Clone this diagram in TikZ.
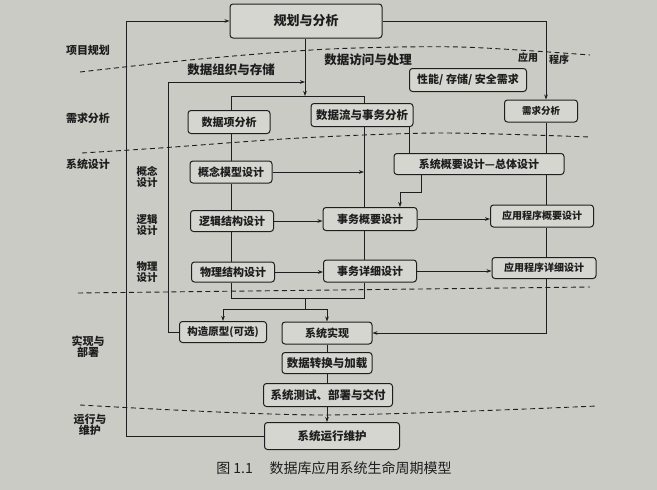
\documentclass[tikz,border=0pt]{standalone}
\usepackage{fontspec}
\setmainfont{Noto Sans CJK SC}
\usetikzlibrary{arrows.meta,calc}
\definecolor{paper}{RGB}{203,203,198}
\definecolor{boxfill}{RGB}{214,214,209}
\definecolor{ink}{RGB}{30,30,30}
\newcommand{\fs}[1]{\fontsize{#1}{#1}\selectfont}
\begin{document}
\begin{tikzpicture}[x=1pt,y=-1pt,
  box/.style={draw=ink, line width=1pt, rounded corners=3pt, fill=boxfill, text=ink, inner sep=0pt, align=center, font=\fs{11}\bfseries},
  conn/.style={draw=ink, line width=0.8pt},
  arr/.style={conn, -{Stealth[length=5pt,width=3.6pt]}},
  sep/.style={draw=ink, line width=0.9pt, dash pattern=on 5pt off 3.5pt},
  lbl/.style={text=ink, font=\fs{11}\bfseries, align=center, inner sep=0pt}]
\fill[paper] (0,0) rectangle (657,490);
\useasboundingbox (0,0) rectangle (657,490);

% phase separators
\draw[sep] plot[smooth] coordinates {(80,72) (200,59) (330,49) (460,47) (590,55)};
\draw[sep] plot[smooth] coordinates {(82,153) (160,148) (300,138) (440,133) (590,137)};
\draw[sep] (78,293) -- (590,287);
\draw[sep] plot[smooth] coordinates {(80,405) (320,415) (597,406)};

% phase labels
\node[lbl] (pPlan) at (88,50) {项目规划};
\node[lbl] (pReq) at (88,118) {需求分析};
\node[lbl] (pDes) at (88,164) {系统设计};
\node[lbl] (pImp) at (88,347) {实现与\\部署};
\node[lbl] (pRun) at (90,425) {运行与\\维护};
\node[lbl, font=\fs{10.5}\bfseries] (sCon) at (147,177) {概念\\设计};
\node[lbl, font=\fs{10.5}\bfseries] (sLog) at (147,225) {逻辑\\设计};
\node[lbl, font=\fs{10.5}\bfseries] (sPhy) at (147,272) {物理\\设计};

% stream labels
\node[lbl, font=\fs{12.5}\bfseries] (tOrg) at (231,70) {数据组织与存储};
\node[lbl, font=\fs{12.5}\bfseries] (tAcc) at (368,60) {数据访问与处理};
\node[lbl, font=\fs{10}\bfseries] (tApp1) at (528,58) {应用};
\node[lbl, font=\fs{10}\bfseries] (tApp2) at (559,60) {程序};

% boxes
\node[box, minimum width=152pt, minimum height=34pt, font=\fs{13}\bfseries] (plan) at (306,21) {规划与分析};
\node[box, minimum width=117pt, minimum height=23pt] (perf) at (468,80) {性能/ 存储/ 安全需求};
\node[box, minimum width=73pt, minimum height=22pt, font=\fs{9.5}\bfseries] (req) at (541,111) {需求分析};
\node[box, minimum width=82pt, minimum height=23pt] (ditem) at (229,122) {数据项分析};
\node[box, minimum width=102pt, minimum height=23pt, font=\fs{11.5}\bfseries] (dflow) at (362,115) {数据流与事务分析};
\node[box, minimum width=82pt, minimum height=22pt] (concept) at (231,172) {概念模型设计};
\node[box, minimum width=83pt, minimum height=21pt] (logic) at (232,221) {逻辑结构设计};
\node[box, minimum width=83pt, minimum height=20pt] (phys) at (233,272) {物理结构设计};
\node[box, minimum width=170pt, minimum height=21pt] (sysov) at (479,164) {系统概要设计—总体设计};
\node[box, minimum width=94pt, minimum height=23pt] (txov) at (370,219) {事务概要设计};
\node[box, minimum width=93pt, minimum height=22pt] (txdet) at (370,271) {事务详细设计};
\node[box, minimum width=103pt, minimum height=22pt, font=\fs{10}\bfseries] (appov) at (542,216) {应用程序概要设计};
\node[box, minimum width=104pt, minimum height=21pt, font=\fs{10}\bfseries] (appdet) at (544,268) {应用程序详细设计};
\node[box, minimum width=87pt, minimum height=21pt, font=\fs{10.5}\bfseries] (proto) at (223,332) {构造原型(可选)};
\node[box, minimum width=90pt, minimum height=22pt] (impl) at (327,333) {系统实现};
\node[box, minimum width=90pt, minimum height=21pt, font=\fs{11.5}\bfseries] (conv) at (327,363) {数据转换与加载};
\node[box, minimum width=129pt, minimum height=23pt, font=\fs{11.5}\bfseries] (test) at (328,395) {系统测试、部署与交付};
\node[box, minimum width=135pt, minimum height=27pt, font=\fs{11.5}\bfseries] (maint) at (332,436) {系统运行维护};

% helper coordinates
\coordinate (j1) at (305,96);
\coordinate (j1l) at (231,96);
\coordinate (j1r) at (364,96);
\coordinate (m1l) at (231,298);
\coordinate (m1r) at (364,298);
\coordinate (m1c) at (305,298);
\coordinate (s1c) at (305,309);
\coordinate (s1l) at (223,309);
\coordinate (s1r) at (327,309);
\coordinate (sx) at (409,0);
\coordinate (b1) at (421,192);
\coordinate (b2) at (400,192);
\coordinate (cA) at (546,0);
\coordinate (cL) at (126,0);
\coordinate (cF) at (168,0);
\coordinate (fb) at (305,82);

% main split
\draw[arr] (plan.south -| j1) -- (j1);
\draw[conn] (j1l |- ditem.north) -- (j1l) -- (j1r) -- (j1r |- dflow.north);

% data column
\draw[conn] (ditem.south -| j1l) -- (concept.north -| j1l);
\draw[conn] (concept.south -| j1l) -- (logic.north -| j1l);
\draw[conn] (logic.south -| j1l) -- (phys.north -| j1l);

% process column
\draw[conn] (dflow.south -| j1r) -- (txov.north -| j1r);
\draw[conn] (txov.south -| j1r) -- (txdet.north -| j1r);
\draw[arr] (concept.east) -- (concept.east -| j1r);
\draw[arr] (logic.east) -- (logic.east -| txov.west);
\draw[arr] (phys.east) -- (phys.east -| txdet.west);
\draw[arr] (txov.east) -- (txov.east -| appov.west);
\draw[arr] (txdet.east) -- (txdet.east -| appdet.west);

% system overview
\draw[conn] (dflow.south -| sx) -- (sysov.north -| sx);
\draw[arr] (sysov.south -| b1) -- (b1) -- (b2) -- (txov.north -| b2);

% application column
\draw[arr] (plan.east) -| (cA |- req.north);
\draw[conn] (req.south -| cA) -- (sysov.north -| cA);
\draw[conn] (sysov.south -| cA) -- (appov.north -| cA);
\draw[conn] (appov.south -| cA) -- (appdet.north -| cA);
\draw[arr] (appdet.south -| cA) |- (impl.east);

% merge and split
\draw[conn] (phys.south -| m1l) -- (m1l) -- (m1r) -- (txdet.south -| m1r);
\draw[conn] (m1c) -- (s1c);
\draw[arr] (s1c) -- (s1l) -- (proto.north -| s1l);
\draw[arr] (s1c) -- (s1r) -- (impl.north -| s1r);

% implementation chain
\draw[conn] (impl.south -| s1r) -- (conv.north -| s1r);
\draw[conn] (conv.south -| s1r) -- (test.north -| s1r);
\draw[arr] (test.south -| s1r) -- (maint.north -| s1r);

% feedback loops
\draw[arr] (proto.west) -| (cF |- fb) -- (fb);
\draw[arr] (maint.west) -| (cL |- plan.west) -- (plan.west);

% caption
\node[lbl, font=\fs{14}] (cap) at (334,468) {图 1.1\hspace{1.2em}数据库应用系统生命周期模型};
\end{tikzpicture}
\end{document}
